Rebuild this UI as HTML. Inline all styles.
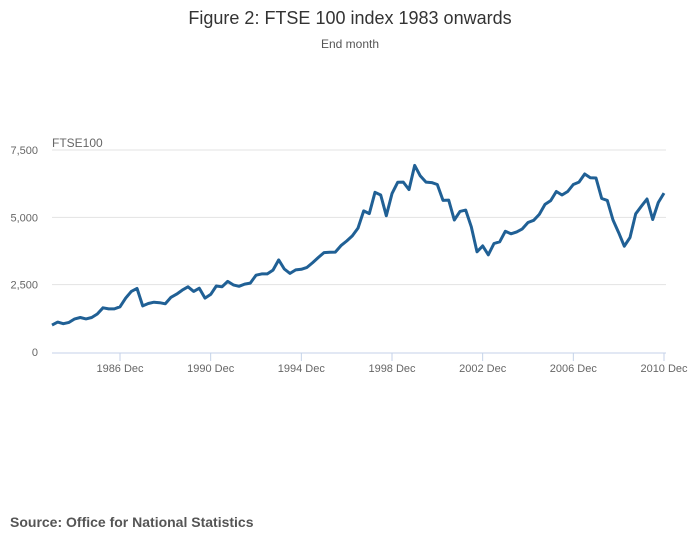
<!DOCTYPE html>
<html><head><meta charset="utf-8"><style>
body{margin:0;background:#fff;font-family:"Liberation Sans",sans-serif;}
svg{display:block}
</style></head><body>
<svg width="700" height="549" xmlns="http://www.w3.org/2000/svg">
<text x="350" y="24" text-anchor="middle" font-size="18" fill="#333">Figure 2: FTSE 100 index 1983 onwards</text>
<text x="350" y="48" text-anchor="middle" font-size="12" fill="#555">End month</text>
<text x="52" y="147" font-size="12" fill="#666">FTSE100</text>
<g id="grid"></g>
<g id="xaxis"></g>
<path id="line" fill="none" stroke="#206095" stroke-width="3" stroke-linejoin="round"/>
<text x="10" y="527" font-size="14" font-weight="bold" fill="#555">Source: Office for National Statistics</text>
</svg>
<script>
const startYear = 1983.917;
const values = [1000,
1110,1050,1100,1230, 1280,1230,1280,1410, 1640,1600,1600,1680, 2000,2250,2360,1710,
1800,1850,1830,1790, 2030,2150,2300,2420, 2250,2370,2000,2140, 2450,2420,2620,2490,
2440,2520,2560,2850, 2900,2900,3040,3420, 3080,2920,3050,3070, 3140,3320,3510,3690,
3700,3710,3950,4120, 4310,4600,5240,5140, 5930,5830,5060,5880, 6300,6310,6030,6930,
6540,6310,6290,6220, 5630,5640,4900,5220, 5270,4650,3720,3940, 3610,4030,4090,4480,
4390,4460,4570,4810, 4890,5110,5480,5620, 5960,5830,5960,6220, 6310,6610,6470,6460,
5700,5630,4900,4430, 3930,4250,5130,5410, 5680,4920,5550,5900];
const yTicks = [0,2500,5000,7500];
const yTickLabels = ["0","2,500","5,000","7,500"];
const xTicks = [1986,1990,1994,1998,2002,2006,2010];
const xTickLabels = ["1986 Dec","1990 Dec","1994 Dec","1998 Dec","2002 Dec","2006 Dec","2010 Dec"];

const X0=52,X1=664,Y0=352,Y1=150;
const xs = t => X0 + (t - startYear) / (2010.917 - startYear) * (X1 - X0);
const ys = v => Y0 - v / 7500 * (Y0 - Y1);
const NS="http://www.w3.org/2000/svg";
const grid=document.getElementById('grid'), xa=document.getElementById('xaxis');
yTicks.forEach((v,i)=>{
  if(v>0){const l=document.createElementNS(NS,'line');
  l.setAttribute('x1',X0);l.setAttribute('x2',X1+2);l.setAttribute('y1',ys(v));l.setAttribute('y2',ys(v));
  l.setAttribute('stroke','#e3e3e3');
  
  
  grid.appendChild(l);}
  const t=document.createElementNS(NS,'text');
  t.setAttribute('x',38);t.setAttribute('y',ys(v)+4);t.setAttribute('text-anchor','end');
  t.setAttribute('font-size','11');t.setAttribute('fill','#666');t.textContent=yTickLabels[i];
  
  
  grid.appendChild(t);
});
const ax=document.createElementNS(NS,'line');
ax.setAttribute('x1',X0);ax.setAttribute('x2',X1+2);ax.setAttribute('y1',Y0+1);ax.setAttribute('y2',Y0+1);
ax.setAttribute('stroke','#c4d2e8');


xa.appendChild(ax);
xTicks.forEach((yr,i)=>{
  const x=xs(yr+0.917);
  const tk=document.createElementNS(NS,'line');
  tk.setAttribute('x1',x);tk.setAttribute('x2',x);tk.setAttribute('y1',Y0+1);tk.setAttribute('y2',Y0+9);
  tk.setAttribute('stroke','#c4d2e8');
  
  
  xa.appendChild(tk);
  const t=document.createElementNS(NS,'text');
  t.setAttribute('x',x);t.setAttribute('y',Y0+20);t.setAttribute('text-anchor','middle');
  t.setAttribute('font-size','11');t.setAttribute('fill','#666');t.textContent=xTickLabels[i];
  
  
  xa.appendChild(t);
});
let d='';
values.forEach((v,i)=>{d+=(i?'L':'M')+xs(startYear+i*0.25).toFixed(1)+','+ys(v).toFixed(1);});
document.getElementById('line').setAttribute('d',d);
</script>
</body></html>
